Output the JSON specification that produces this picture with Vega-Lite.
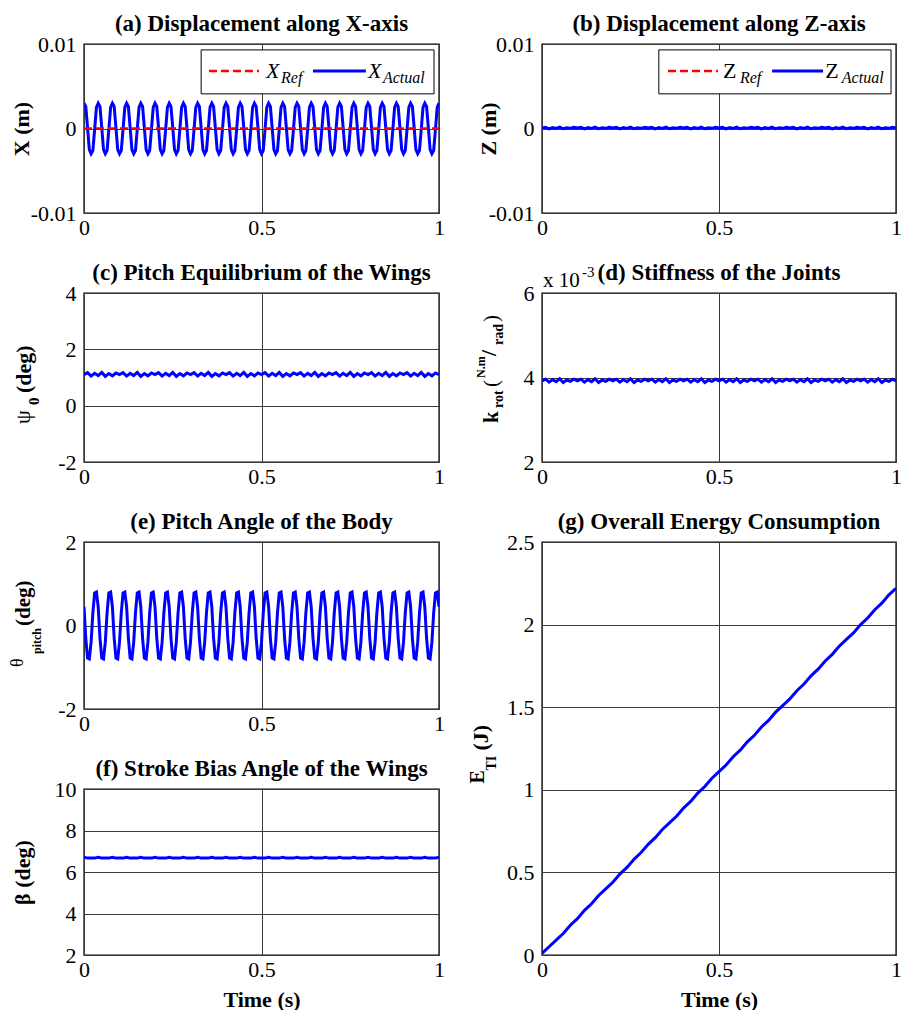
{
"$schema": "https://vega.github.io/schema/vega-lite/v6.json",
"padding": {"left": 8, "top": 12, "right": 0, "bottom": 0},
"background": "white",
"config": {
 "font": "Liberation Serif",
 "view": {"stroke": "#000000", "strokeWidth": 1.4},
 "axis": {"labelFont": "Liberation Serif", "labelFontSize": 22, "labelColor": "#000000", "labelFlush": false, "labelOverlap": false, "labelPadding": 8, "ticks": false, "domain": false, "grid": true, "gridColor": "#3a3a3a", "gridWidth": 1, "gridOpacity": 1, "titleFont": "Liberation Serif", "titleFontSize": 22, "titleFontWeight": "bold", "titleColor": "#000000"},
 "axisX": {"labelPadding": 4, "titlePadding": 9},
 "title": {"font": "Liberation Serif", "fontSize": 23, "fontWeight": "bold", "color": "#000000", "offset": -3},
 "text": {"font": "Liberation Serif", "color": "#000000"}
},
"datasets": {
 "refline": [{"t":0,"v":0},{"t":1,"v":0}],
 "osc": [
{"t":0,"X":0.003,"P":0.45},{"t":0.005,"X":0.0026,"P":-0.3},{"t":0.01,"X":0.0001,"P":-0.78},{"t":0.015,"X":-0.0025,"P":-0.8},{"t":0.02,"X":-0.003,"P":-0.4},{"t":0.025,"X":-0.0026,"P":0.3},{"t":0.03,"X":-0.0001,"P":0.78},{"t":0.035,"X":0.0025,"P":0.8},
{"t":0.04,"X":0.003,"P":0.45},{"t":0.045,"X":0.0026,"P":-0.3},{"t":0.05,"X":0.0001,"P":-0.78},{"t":0.055,"X":-0.0025,"P":-0.8},{"t":0.06,"X":-0.003,"P":-0.4},{"t":0.065,"X":-0.0026,"P":0.3},{"t":0.07,"X":-0.0001,"P":0.78},{"t":0.075,"X":0.0025,"P":0.8},
{"t":0.08,"X":0.003,"P":0.45},{"t":0.085,"X":0.0026,"P":-0.3},{"t":0.09,"X":0.0001,"P":-0.78},{"t":0.095,"X":-0.0025,"P":-0.8},{"t":0.1,"X":-0.003,"P":-0.4},{"t":0.105,"X":-0.0026,"P":0.3},{"t":0.11,"X":-0.0001,"P":0.78},{"t":0.115,"X":0.0025,"P":0.8},
{"t":0.12,"X":0.003,"P":0.45},{"t":0.125,"X":0.0026,"P":-0.3},{"t":0.13,"X":0.0001,"P":-0.78},{"t":0.135,"X":-0.0025,"P":-0.8},{"t":0.14,"X":-0.003,"P":-0.4},{"t":0.145,"X":-0.0026,"P":0.3},{"t":0.15,"X":-0.0001,"P":0.78},{"t":0.155,"X":0.0025,"P":0.8},
{"t":0.16,"X":0.003,"P":0.45},{"t":0.165,"X":0.0026,"P":-0.3},{"t":0.17,"X":0.0001,"P":-0.78},{"t":0.175,"X":-0.0025,"P":-0.8},{"t":0.18,"X":-0.003,"P":-0.4},{"t":0.185,"X":-0.0026,"P":0.3},{"t":0.19,"X":-0.0001,"P":0.78},{"t":0.195,"X":0.0025,"P":0.8},
{"t":0.2,"X":0.003,"P":0.45},{"t":0.205,"X":0.0026,"P":-0.3},{"t":0.21,"X":0.0001,"P":-0.78},{"t":0.215,"X":-0.0025,"P":-0.8},{"t":0.22,"X":-0.003,"P":-0.4},{"t":0.225,"X":-0.0026,"P":0.3},{"t":0.23,"X":-0.0001,"P":0.78},{"t":0.235,"X":0.0025,"P":0.8},
{"t":0.24,"X":0.003,"P":0.45},{"t":0.245,"X":0.0026,"P":-0.3},{"t":0.25,"X":0.0001,"P":-0.78},{"t":0.255,"X":-0.0025,"P":-0.8},{"t":0.26,"X":-0.003,"P":-0.4},{"t":0.265,"X":-0.0026,"P":0.3},{"t":0.27,"X":-0.0001,"P":0.78},{"t":0.275,"X":0.0025,"P":0.8},
{"t":0.28,"X":0.003,"P":0.45},{"t":0.285,"X":0.0026,"P":-0.3},{"t":0.29,"X":0.0001,"P":-0.78},{"t":0.295,"X":-0.0025,"P":-0.8},{"t":0.3,"X":-0.003,"P":-0.4},{"t":0.305,"X":-0.0026,"P":0.3},{"t":0.31,"X":-0.0001,"P":0.78},{"t":0.315,"X":0.0025,"P":0.8},
{"t":0.32,"X":0.003,"P":0.45},{"t":0.325,"X":0.0026,"P":-0.3},{"t":0.33,"X":0.0001,"P":-0.78},{"t":0.335,"X":-0.0025,"P":-0.8},{"t":0.34,"X":-0.003,"P":-0.4},{"t":0.345,"X":-0.0026,"P":0.3},{"t":0.35,"X":-0.0001,"P":0.78},{"t":0.355,"X":0.0025,"P":0.8},
{"t":0.36,"X":0.003,"P":0.45},{"t":0.365,"X":0.0026,"P":-0.3},{"t":0.37,"X":0.0001,"P":-0.78},{"t":0.375,"X":-0.0025,"P":-0.8},{"t":0.38,"X":-0.003,"P":-0.4},{"t":0.385,"X":-0.0026,"P":0.3},{"t":0.39,"X":-0.0001,"P":0.78},{"t":0.395,"X":0.0025,"P":0.8},
{"t":0.4,"X":0.003,"P":0.45},{"t":0.405,"X":0.0026,"P":-0.3},{"t":0.41,"X":0.0001,"P":-0.78},{"t":0.415,"X":-0.0025,"P":-0.8},{"t":0.42,"X":-0.003,"P":-0.4},{"t":0.425,"X":-0.0026,"P":0.3},{"t":0.43,"X":-0.0001,"P":0.78},{"t":0.435,"X":0.0025,"P":0.8},
{"t":0.44,"X":0.003,"P":0.45},{"t":0.445,"X":0.0026,"P":-0.3},{"t":0.45,"X":0.0001,"P":-0.78},{"t":0.455,"X":-0.0025,"P":-0.8},{"t":0.46,"X":-0.003,"P":-0.4},{"t":0.465,"X":-0.0026,"P":0.3},{"t":0.47,"X":-0.0001,"P":0.78},{"t":0.475,"X":0.0025,"P":0.8},
{"t":0.48,"X":0.003,"P":0.45},{"t":0.485,"X":0.0026,"P":-0.3},{"t":0.49,"X":0.0001,"P":-0.78},{"t":0.495,"X":-0.0025,"P":-0.8},{"t":0.5,"X":-0.003,"P":-0.4},{"t":0.505,"X":-0.0026,"P":0.3},{"t":0.51,"X":-0.0001,"P":0.78},{"t":0.515,"X":0.0025,"P":0.8},
{"t":0.52,"X":0.003,"P":0.45},{"t":0.525,"X":0.0026,"P":-0.3},{"t":0.53,"X":0.0001,"P":-0.78},{"t":0.535,"X":-0.0025,"P":-0.8},{"t":0.54,"X":-0.003,"P":-0.4},{"t":0.545,"X":-0.0026,"P":0.3},{"t":0.55,"X":-0.0001,"P":0.78},{"t":0.555,"X":0.0025,"P":0.8},
{"t":0.56,"X":0.003,"P":0.45},{"t":0.565,"X":0.0026,"P":-0.3},{"t":0.57,"X":0.0001,"P":-0.78},{"t":0.575,"X":-0.0025,"P":-0.8},{"t":0.58,"X":-0.003,"P":-0.4},{"t":0.585,"X":-0.0026,"P":0.3},{"t":0.59,"X":-0.0001,"P":0.78},{"t":0.595,"X":0.0025,"P":0.8},
{"t":0.6,"X":0.003,"P":0.45},{"t":0.605,"X":0.0026,"P":-0.3},{"t":0.61,"X":0.0001,"P":-0.78},{"t":0.615,"X":-0.0025,"P":-0.8},{"t":0.62,"X":-0.003,"P":-0.4},{"t":0.625,"X":-0.0026,"P":0.3},{"t":0.63,"X":-0.0001,"P":0.78},{"t":0.635,"X":0.0025,"P":0.8},
{"t":0.64,"X":0.003,"P":0.45},{"t":0.645,"X":0.0026,"P":-0.3},{"t":0.65,"X":0.0001,"P":-0.78},{"t":0.655,"X":-0.0025,"P":-0.8},{"t":0.66,"X":-0.003,"P":-0.4},{"t":0.665,"X":-0.0026,"P":0.3},{"t":0.67,"X":-0.0001,"P":0.78},{"t":0.675,"X":0.0025,"P":0.8},
{"t":0.68,"X":0.003,"P":0.45},{"t":0.685,"X":0.0026,"P":-0.3},{"t":0.69,"X":0.0001,"P":-0.78},{"t":0.695,"X":-0.0025,"P":-0.8},{"t":0.7,"X":-0.003,"P":-0.4},{"t":0.705,"X":-0.0026,"P":0.3},{"t":0.71,"X":-0.0001,"P":0.78},{"t":0.715,"X":0.0025,"P":0.8},
{"t":0.72,"X":0.003,"P":0.45},{"t":0.725,"X":0.0026,"P":-0.3},{"t":0.73,"X":0.0001,"P":-0.78},{"t":0.735,"X":-0.0025,"P":-0.8},{"t":0.74,"X":-0.003,"P":-0.4},{"t":0.745,"X":-0.0026,"P":0.3},{"t":0.75,"X":-0.0001,"P":0.78},{"t":0.755,"X":0.0025,"P":0.8},
{"t":0.76,"X":0.003,"P":0.45},{"t":0.765,"X":0.0026,"P":-0.3},{"t":0.77,"X":0.0001,"P":-0.78},{"t":0.775,"X":-0.0025,"P":-0.8},{"t":0.78,"X":-0.003,"P":-0.4},{"t":0.785,"X":-0.0026,"P":0.3},{"t":0.79,"X":-0.0001,"P":0.78},{"t":0.795,"X":0.0025,"P":0.8},
{"t":0.8,"X":0.003,"P":0.45},{"t":0.805,"X":0.0026,"P":-0.3},{"t":0.81,"X":0.0001,"P":-0.78},{"t":0.815,"X":-0.0025,"P":-0.8},{"t":0.82,"X":-0.003,"P":-0.4},{"t":0.825,"X":-0.0026,"P":0.3},{"t":0.83,"X":-0.0001,"P":0.78},{"t":0.835,"X":0.0025,"P":0.8},
{"t":0.84,"X":0.003,"P":0.45},{"t":0.845,"X":0.0026,"P":-0.3},{"t":0.85,"X":0.0001,"P":-0.78},{"t":0.855,"X":-0.0025,"P":-0.8},{"t":0.86,"X":-0.003,"P":-0.4},{"t":0.865,"X":-0.0026,"P":0.3},{"t":0.87,"X":-0.0001,"P":0.78},{"t":0.875,"X":0.0025,"P":0.8},
{"t":0.88,"X":0.003,"P":0.45},{"t":0.885,"X":0.0026,"P":-0.3},{"t":0.89,"X":0.0001,"P":-0.78},{"t":0.895,"X":-0.0025,"P":-0.8},{"t":0.9,"X":-0.003,"P":-0.4},{"t":0.905,"X":-0.0026,"P":0.3},{"t":0.91,"X":-0.0001,"P":0.78},{"t":0.915,"X":0.0025,"P":0.8},
{"t":0.92,"X":0.003,"P":0.45},{"t":0.925,"X":0.0026,"P":-0.3},{"t":0.93,"X":0.0001,"P":-0.78},{"t":0.935,"X":-0.0025,"P":-0.8},{"t":0.94,"X":-0.003,"P":-0.4},{"t":0.945,"X":-0.0026,"P":0.3},{"t":0.95,"X":-0.0001,"P":0.78},{"t":0.955,"X":0.0025,"P":0.8},
{"t":0.96,"X":0.003,"P":0.45},{"t":0.965,"X":0.0026,"P":-0.3},{"t":0.97,"X":0.0001,"P":-0.78},{"t":0.975,"X":-0.0025,"P":-0.8},{"t":0.98,"X":-0.003,"P":-0.4},{"t":0.985,"X":-0.0026,"P":0.3},{"t":0.99,"X":-0.0001,"P":0.78},{"t":0.995,"X":0.0025,"P":0.8},
{"t":1,"X":0.003,"P":0.45}
 ],
 "noise": [
{"t":0,"Z":0.00005,"S":1.1,"K":3.92,"B":6.71},{"t":0.01,"Z":0.00014,"S":1.17,"K":3.96,"B":6.67},{"t":0.02,"Z":-0.00004,"S":1.05,"K":3.89,"B":6.67},{"t":0.03,"Z":0.0001,"S":1.15,"K":3.95,"B":6.67},{"t":0.04,"Z":0.00001,"S":1.07,"K":3.9,"B":6.71},{"t":0.05,"Z":0.00016,"S":1.18,"K":3.97,"B":6.67},{"t":0.06,"Z":-0.00003,"S":1.04,"K":3.88,"B":6.67},{"t":0.07,"Z":0.00009,"S":1.14,"K":3.94,"B":6.67},{"t":0.08,"Z":0.00002,"S":1.06,"K":3.91,"B":6.71},{"t":0.09,"Z":0.00013,"S":1.16,"K":3.96,"B":6.67},
{"t":0.1,"Z":0.00005,"S":1.1,"K":3.92,"B":6.67},{"t":0.11,"Z":0.00014,"S":1.17,"K":3.96,"B":6.67},{"t":0.12,"Z":-0.00004,"S":1.05,"K":3.89,"B":6.71},{"t":0.13,"Z":0.0001,"S":1.15,"K":3.95,"B":6.67},{"t":0.14,"Z":0.00001,"S":1.07,"K":3.9,"B":6.67},{"t":0.15,"Z":0.00016,"S":1.18,"K":3.97,"B":6.67},{"t":0.16,"Z":-0.00003,"S":1.04,"K":3.88,"B":6.71},{"t":0.17,"Z":0.00009,"S":1.14,"K":3.94,"B":6.67},{"t":0.18,"Z":0.00002,"S":1.06,"K":3.91,"B":6.67},{"t":0.19,"Z":0.00013,"S":1.16,"K":3.96,"B":6.67},
{"t":0.2,"Z":0.00005,"S":1.1,"K":3.92,"B":6.71},{"t":0.21,"Z":0.00014,"S":1.17,"K":3.96,"B":6.67},{"t":0.22,"Z":-0.00004,"S":1.05,"K":3.89,"B":6.67},{"t":0.23,"Z":0.0001,"S":1.15,"K":3.95,"B":6.67},{"t":0.24,"Z":0.00001,"S":1.07,"K":3.9,"B":6.71},{"t":0.25,"Z":0.00016,"S":1.18,"K":3.97,"B":6.67},{"t":0.26,"Z":-0.00003,"S":1.04,"K":3.88,"B":6.67},{"t":0.27,"Z":0.00009,"S":1.14,"K":3.94,"B":6.67},{"t":0.28,"Z":0.00002,"S":1.06,"K":3.91,"B":6.71},{"t":0.29,"Z":0.00013,"S":1.16,"K":3.96,"B":6.67},
{"t":0.3,"Z":0.00005,"S":1.1,"K":3.92,"B":6.67},{"t":0.31,"Z":0.00014,"S":1.17,"K":3.96,"B":6.67},{"t":0.32,"Z":-0.00004,"S":1.05,"K":3.89,"B":6.71},{"t":0.33,"Z":0.0001,"S":1.15,"K":3.95,"B":6.67},{"t":0.34,"Z":0.00001,"S":1.07,"K":3.9,"B":6.67},{"t":0.35,"Z":0.00016,"S":1.18,"K":3.97,"B":6.67},{"t":0.36,"Z":-0.00003,"S":1.04,"K":3.88,"B":6.71},{"t":0.37,"Z":0.00009,"S":1.14,"K":3.94,"B":6.67},{"t":0.38,"Z":0.00002,"S":1.06,"K":3.91,"B":6.67},{"t":0.39,"Z":0.00013,"S":1.16,"K":3.96,"B":6.67},
{"t":0.4,"Z":0.00005,"S":1.1,"K":3.92,"B":6.71},{"t":0.41,"Z":0.00014,"S":1.17,"K":3.96,"B":6.67},{"t":0.42,"Z":-0.00004,"S":1.05,"K":3.89,"B":6.67},{"t":0.43,"Z":0.0001,"S":1.15,"K":3.95,"B":6.67},{"t":0.44,"Z":0.00001,"S":1.07,"K":3.9,"B":6.71},{"t":0.45,"Z":0.00016,"S":1.18,"K":3.97,"B":6.67},{"t":0.46,"Z":-0.00003,"S":1.04,"K":3.88,"B":6.67},{"t":0.47,"Z":0.00009,"S":1.14,"K":3.94,"B":6.67},{"t":0.48,"Z":0.00002,"S":1.06,"K":3.91,"B":6.71},{"t":0.49,"Z":0.00013,"S":1.16,"K":3.96,"B":6.67},
{"t":0.5,"Z":0.00005,"S":1.1,"K":3.92,"B":6.67},{"t":0.51,"Z":0.00014,"S":1.17,"K":3.96,"B":6.67},{"t":0.52,"Z":-0.00004,"S":1.05,"K":3.89,"B":6.71},{"t":0.53,"Z":0.0001,"S":1.15,"K":3.95,"B":6.67},{"t":0.54,"Z":0.00001,"S":1.07,"K":3.9,"B":6.67},{"t":0.55,"Z":0.00016,"S":1.18,"K":3.97,"B":6.67},{"t":0.56,"Z":-0.00003,"S":1.04,"K":3.88,"B":6.71},{"t":0.57,"Z":0.00009,"S":1.14,"K":3.94,"B":6.67},{"t":0.58,"Z":0.00002,"S":1.06,"K":3.91,"B":6.67},{"t":0.59,"Z":0.00013,"S":1.16,"K":3.96,"B":6.67},
{"t":0.6,"Z":0.00005,"S":1.1,"K":3.92,"B":6.71},{"t":0.61,"Z":0.00014,"S":1.17,"K":3.96,"B":6.67},{"t":0.62,"Z":-0.00004,"S":1.05,"K":3.89,"B":6.67},{"t":0.63,"Z":0.0001,"S":1.15,"K":3.95,"B":6.67},{"t":0.64,"Z":0.00001,"S":1.07,"K":3.9,"B":6.71},{"t":0.65,"Z":0.00016,"S":1.18,"K":3.97,"B":6.67},{"t":0.66,"Z":-0.00003,"S":1.04,"K":3.88,"B":6.67},{"t":0.67,"Z":0.00009,"S":1.14,"K":3.94,"B":6.67},{"t":0.68,"Z":0.00002,"S":1.06,"K":3.91,"B":6.71},{"t":0.69,"Z":0.00013,"S":1.16,"K":3.96,"B":6.67},
{"t":0.7,"Z":0.00005,"S":1.1,"K":3.92,"B":6.67},{"t":0.71,"Z":0.00014,"S":1.17,"K":3.96,"B":6.67},{"t":0.72,"Z":-0.00004,"S":1.05,"K":3.89,"B":6.71},{"t":0.73,"Z":0.0001,"S":1.15,"K":3.95,"B":6.67},{"t":0.74,"Z":0.00001,"S":1.07,"K":3.9,"B":6.67},{"t":0.75,"Z":0.00016,"S":1.18,"K":3.97,"B":6.67},{"t":0.76,"Z":-0.00003,"S":1.04,"K":3.88,"B":6.71},{"t":0.77,"Z":0.00009,"S":1.14,"K":3.94,"B":6.67},{"t":0.78,"Z":0.00002,"S":1.06,"K":3.91,"B":6.67},{"t":0.79,"Z":0.00013,"S":1.16,"K":3.96,"B":6.67},
{"t":0.8,"Z":0.00005,"S":1.1,"K":3.92,"B":6.71},{"t":0.81,"Z":0.00014,"S":1.17,"K":3.96,"B":6.67},{"t":0.82,"Z":-0.00004,"S":1.05,"K":3.89,"B":6.67},{"t":0.83,"Z":0.0001,"S":1.15,"K":3.95,"B":6.67},{"t":0.84,"Z":0.00001,"S":1.07,"K":3.9,"B":6.71},{"t":0.85,"Z":0.00016,"S":1.18,"K":3.97,"B":6.67},{"t":0.86,"Z":-0.00003,"S":1.04,"K":3.88,"B":6.67},{"t":0.87,"Z":0.00009,"S":1.14,"K":3.94,"B":6.67},{"t":0.88,"Z":0.00002,"S":1.06,"K":3.91,"B":6.71},{"t":0.89,"Z":0.00013,"S":1.16,"K":3.96,"B":6.67},
{"t":0.9,"Z":0.00005,"S":1.1,"K":3.92,"B":6.67},{"t":0.91,"Z":0.00014,"S":1.17,"K":3.96,"B":6.67},{"t":0.92,"Z":-0.00004,"S":1.05,"K":3.89,"B":6.71},{"t":0.93,"Z":0.0001,"S":1.15,"K":3.95,"B":6.67},{"t":0.94,"Z":0.00001,"S":1.07,"K":3.9,"B":6.67},{"t":0.95,"Z":0.00016,"S":1.18,"K":3.97,"B":6.67},{"t":0.96,"Z":-0.00003,"S":1.04,"K":3.88,"B":6.71},{"t":0.97,"Z":0.00009,"S":1.14,"K":3.94,"B":6.67},{"t":0.98,"Z":0.00002,"S":1.06,"K":3.91,"B":6.67},{"t":0.99,"Z":0.00013,"S":1.16,"K":3.96,"B":6.67},
{"t":1,"Z":0.00005,"S":1.1,"K":3.92,"B":6.71}
 ],
 "energy": [
{"t":0,"E":0.01},{"t":0.02,"E":0.05},{"t":0.04,"E":0.09},{"t":0.06,"E":0.13},{"t":0.08,"E":0.18},{"t":0.1,"E":0.22},{"t":0.12,"E":0.27},{"t":0.14,"E":0.31},{"t":0.16,"E":0.36},{"t":0.18,"E":0.4},{"t":0.2,"E":0.44},{"t":0.22,"E":0.49},{"t":0.24,"E":0.53},{"t":0.26,"E":0.58},{"t":0.28,"E":0.62},{"t":0.3,"E":0.67},{"t":0.32,"E":0.71},{"t":0.34,"E":0.76},{"t":0.36,"E":0.8},{"t":0.38,"E":0.84},{"t":0.4,"E":0.89},{"t":0.42,"E":0.93},{"t":0.44,"E":0.98},{"t":0.46,"E":1.02},{"t":0.48,"E":1.07},{"t":0.5,"E":1.11},{"t":0.52,"E":1.15},{"t":0.54,"E":1.2},{"t":0.56,"E":1.24},{"t":0.58,"E":1.29},{"t":0.6,"E":1.33},{"t":0.62,"E":1.38},{"t":0.64,"E":1.42},{"t":0.66,"E":1.47},{"t":0.68,"E":1.51},{"t":0.7,"E":1.55},{"t":0.72,"E":1.6},{"t":0.74,"E":1.64},{"t":0.76,"E":1.69},{"t":0.78,"E":1.73},{"t":0.8,"E":1.78},{"t":0.82,"E":1.82},{"t":0.84,"E":1.87},{"t":0.86,"E":1.91},{"t":0.88,"E":1.95},{"t":0.9,"E":2.0},{"t":0.92,"E":2.04},{"t":0.94,"E":2.09},{"t":0.96,"E":2.13},{"t":0.98,"E":2.18},{"t":1,"E":2.22}
 ]
},
"spacing": 21,
"bounds": "full",
"hconcat": [
 {"spacing": 80, "bounds": "flush", "vconcat": [
  {"title": "(a) Displacement along X-axis", "width": 355, "height": 169, "layer": [
   {"data": {"name": "osc"}, "mark": {"type": "line", "color": "#0000ff", "strokeWidth": 3, "clip": true},
    "encoding": {
     "x": {"field": "t", "type": "quantitative", "scale": {"domain": [0, 1], "nice": false}, "axis": {"values": [0, 0.5, 1], "title": null, "labelExpr": "toString(datum.value)"}},
     "y": {"field": "X", "type": "quantitative", "scale": {"domain": [-0.01, 0.01], "nice": false, "zero": false}, "axis": {"values": [-0.01, 0, 0.01], "title": "X (m)", "titlePadding": -3, "labelExpr": "toString(datum.value)"}}}},
   {"data": {"name": "refline"}, "mark": {"type": "line", "color": "#ff0000", "strokeWidth": 2.5, "strokeDash": [8, 4]},
    "encoding": {"x": {"field": "t", "type": "quantitative"}, "y": {"field": "v", "type": "quantitative"}}},
   {"data": {"values": [{}]}, "mark": {"type": "rect", "fill": "#ffffff", "stroke": "#000000", "strokeWidth": 1},
    "encoding": {"x": {"datum": 0.33}, "x2": {"datum": 0.986}, "y": {"datum": 0.0093}, "y2": {"datum": 0.0041}}},
   {"data": {"values": [{}]}, "mark": {"type": "rule", "color": "#ff0000", "strokeWidth": 2.5, "strokeDash": [8, 4]},
    "encoding": {"x": {"datum": 0.352}, "x2": {"datum": 0.493}, "y": {"datum": 0.0068}}},
   {"data": {"values": [{}]}, "mark": {"type": "rule", "color": "#0000ff", "strokeWidth": 3},
    "encoding": {"x": {"datum": 0.645}, "x2": {"datum": 0.794}, "y": {"datum": 0.0068}}},
   {"data": {"values": [{}]}, "mark": {"type": "text", "text": "X", "fontStyle": "italic", "fontSize": 22, "align": "left", "baseline": "alphabetic", "dy": 7},
    "encoding": {"x": {"datum": 0.513}, "y": {"datum": 0.0068}}},
   {"data": {"values": [{}]}, "mark": {"type": "text", "text": "Ref", "fontStyle": "italic", "fontSize": 16, "align": "left", "baseline": "alphabetic", "dy": 12},
    "encoding": {"x": {"datum": 0.555}, "y": {"datum": 0.0068}}},
   {"data": {"values": [{}]}, "mark": {"type": "text", "text": "X", "fontStyle": "italic", "fontSize": 22, "align": "left", "baseline": "alphabetic", "dy": 7},
    "encoding": {"x": {"datum": 0.8}, "y": {"datum": 0.0068}}},
   {"data": {"values": [{}]}, "mark": {"type": "text", "text": "Actual", "fontStyle": "italic", "fontSize": 16, "align": "left", "baseline": "alphabetic", "dy": 12},
    "encoding": {"x": {"datum": 0.842}, "y": {"datum": 0.0068}}}
  ]},
  {"title": "(c) Pitch Equilibrium of the Wings", "width": 355, "height": 169, "layer": [
   {"data": {"name": "noise"}, "mark": {"type": "line", "color": "#0000ff", "strokeWidth": 3, "clip": true},
    "encoding": {
     "x": {"field": "t", "type": "quantitative", "scale": {"domain": [0, 1], "nice": false}, "axis": {"values": [0, 0.5, 1], "title": null, "labelExpr": "toString(datum.value)"}},
     "y": {"field": "S", "type": "quantitative", "scale": {"domain": [-2, 4], "nice": false, "zero": false}, "axis": {"values": [-2, 0, 2, 4], "title": null, "labelExpr": "toString(datum.value)"}}}},
   {"data": {"values": [{}]}, "mark": {"type": "text", "text": "ψ", "angle": 270, "fontSize": 22, "align": "left", "baseline": "alphabetic", "dx": -46.5, "dy": -54},
    "encoding": {"x": {"datum": 0}, "y": {"datum": 1}}},
   {"data": {"values": [{}]}, "mark": {"type": "text", "text": "0", "angle": 270, "fontSize": 15, "fontWeight": "bold", "align": "left", "baseline": "alphabetic", "dx": -27.5, "dy": -45},
    "encoding": {"x": {"datum": 0}, "y": {"datum": 1}}},
   {"data": {"values": [{}]}, "mark": {"type": "text", "text": "(deg)", "angle": 270, "fontSize": 22, "fontWeight": "bold", "align": "left", "baseline": "alphabetic", "dx": -15.5, "dy": -53.5},
    "encoding": {"x": {"datum": 0}, "y": {"datum": 1}}}
  ]},
  {"title": "(e) Pitch Angle of the Body", "width": 355, "height": 167, "layer": [
   {"data": {"name": "osc"}, "mark": {"type": "line", "color": "#0000ff", "strokeWidth": 3, "clip": true},
    "encoding": {
     "x": {"field": "t", "type": "quantitative", "scale": {"domain": [0, 1], "nice": false}, "axis": {"values": [0, 0.5, 1], "title": null, "labelExpr": "toString(datum.value)"}},
     "y": {"field": "P", "type": "quantitative", "scale": {"domain": [-2, 2], "nice": false, "zero": false}, "axis": {"values": [-2, 0, 2], "title": null, "labelExpr": "toString(datum.value)"}}}},
   {"data": {"values": [{}]}, "mark": {"type": "text", "text": "θ", "angle": 270, "fontSize": 18, "align": "left", "baseline": "alphabetic", "dx": -41.5, "dy": -61},
    "encoding": {"x": {"datum": 0}, "y": {"datum": 0}}},
   {"data": {"values": [{}]}, "mark": {"type": "text", "text": "pitch", "angle": 270, "fontSize": 12, "fontWeight": "bold", "align": "left", "baseline": "alphabetic", "dx": -28.5, "dy": -43},
    "encoding": {"x": {"datum": 0}, "y": {"datum": 0}}},
   {"data": {"values": [{}]}, "mark": {"type": "text", "text": "(deg)", "angle": 270, "fontSize": 21, "fontWeight": "bold", "align": "left", "baseline": "alphabetic", "dx": -0.5, "dy": -54},
    "encoding": {"x": {"datum": 0}, "y": {"datum": 0}}}
  ]},
  {"title": "(f) Stroke Bias Angle of the Wings", "width": 355, "height": 166, "layer": [
   {"data": {"name": "noise"}, "mark": {"type": "line", "color": "#0000ff", "strokeWidth": 3, "clip": true},
    "encoding": {
     "x": {"field": "t", "type": "quantitative", "scale": {"domain": [0, 1], "nice": false}, "axis": {"values": [0, 0.5, 1], "title": "Time (s)", "labelExpr": "toString(datum.value)"}},
     "y": {"field": "B", "type": "quantitative", "scale": {"domain": [2, 10], "nice": false, "zero": false}, "axis": {"values": [2, 4, 6, 8, 10], "title": "β (deg)", "titlePadding": 20, "labelExpr": "toString(datum.value)"}}}}
  ]}
 ]},
 {"spacing": 80, "bounds": "flush", "vconcat": [
  {"title": "(b) Displacement along Z-axis", "width": 354, "height": 169, "layer": [
   {"data": {"name": "refline"}, "mark": {"type": "line", "color": "#ff0000", "strokeWidth": 2.5, "strokeDash": [8, 4]},
    "encoding": {
     "x": {"field": "t", "type": "quantitative", "scale": {"domain": [0, 1], "nice": false}, "axis": {"values": [0, 0.5, 1], "title": null, "labelExpr": "toString(datum.value)"}},
     "y": {"field": "v", "type": "quantitative", "scale": {"domain": [-0.01, 0.01], "nice": false, "zero": false}, "axis": {"values": [-0.01, 0, 0.01], "title": "Z (m)", "titlePadding": -12, "labelExpr": "toString(datum.value)"}}}},
   {"data": {"name": "noise"}, "mark": {"type": "line", "color": "#0000ff", "strokeWidth": 3, "clip": true},
    "encoding": {"x": {"field": "t", "type": "quantitative"}, "y": {"field": "Z", "type": "quantitative"}}},
   {"data": {"values": [{}]}, "mark": {"type": "rect", "fill": "#ffffff", "stroke": "#000000", "strokeWidth": 1},
    "encoding": {"x": {"datum": 0.33}, "x2": {"datum": 0.986}, "y": {"datum": 0.0093}, "y2": {"datum": 0.0041}}},
   {"data": {"values": [{}]}, "mark": {"type": "rule", "color": "#ff0000", "strokeWidth": 2.5, "strokeDash": [8, 4]},
    "encoding": {"x": {"datum": 0.356}, "x2": {"datum": 0.497}, "y": {"datum": 0.0068}}},
   {"data": {"values": [{}]}, "mark": {"type": "rule", "color": "#0000ff", "strokeWidth": 3},
    "encoding": {"x": {"datum": 0.65}, "x2": {"datum": 0.794}, "y": {"datum": 0.0068}}},
   {"data": {"values": [{}]}, "mark": {"type": "text", "text": "Z", "fontSize": 22, "align": "left", "baseline": "alphabetic", "dy": 7},
    "encoding": {"x": {"datum": 0.511}, "y": {"datum": 0.0068}}},
   {"data": {"values": [{}]}, "mark": {"type": "text", "text": "Ref", "fontStyle": "italic", "fontSize": 16, "align": "left", "baseline": "alphabetic", "dy": 12},
    "encoding": {"x": {"datum": 0.559}, "y": {"datum": 0.0068}}},
   {"data": {"values": [{}]}, "mark": {"type": "text", "text": "Z", "fontSize": 22, "align": "left", "baseline": "alphabetic", "dy": 7},
    "encoding": {"x": {"datum": 0.8}, "y": {"datum": 0.0068}}},
   {"data": {"values": [{}]}, "mark": {"type": "text", "text": "Actual", "fontStyle": "italic", "fontSize": 16, "align": "left", "baseline": "alphabetic", "dy": 12},
    "encoding": {"x": {"datum": 0.847}, "y": {"datum": 0.0068}}}
  ]},
  {"title": {"text": "(d) Stiffness of the Joints", "offset": -20}, "width": 354, "height": 169, "layer": [
   {"data": {"name": "noise"}, "mark": {"type": "line", "color": "#0000ff", "strokeWidth": 3, "clip": true},
    "encoding": {
     "x": {"field": "t", "type": "quantitative", "scale": {"domain": [0, 1], "nice": false}, "axis": {"values": [0, 0.5, 1], "title": null, "labelExpr": "toString(datum.value)"}},
     "y": {"field": "K", "type": "quantitative", "scale": {"domain": [2, 6], "nice": false, "zero": false}, "axis": {"values": [2, 4, 6], "title": null, "labelExpr": "toString(datum.value)"}}}},
   {"data": {"values": [{}]}, "mark": {"type": "text", "text": "x 10", "fontSize": 21, "align": "left", "baseline": "alphabetic", "dx": 1, "dy": -6},
    "encoding": {"x": {"datum": 0}, "y": {"datum": 6}}},
   {"data": {"values": [{}]}, "mark": {"type": "text", "text": "-3", "fontSize": 15, "align": "left", "baseline": "alphabetic", "dx": 40, "dy": -16},
    "encoding": {"x": {"datum": 0}, "y": {"datum": 6}}},
   {"data": {"values": [{}]}, "mark": {"type": "text", "text": "k", "angle": 270, "fontSize": 21, "fontWeight": "bold", "align": "left", "baseline": "alphabetic", "dx": -45.5, "dy": -44},
    "encoding": {"x": {"datum": 0}, "y": {"datum": 4}}},
   {"data": {"values": [{}]}, "mark": {"type": "text", "text": "rot", "angle": 270, "fontSize": 14, "fontWeight": "bold", "align": "left", "baseline": "alphabetic", "dx": -30.5, "dy": -39},
    "encoding": {"x": {"datum": 0}, "y": {"datum": 4}}},
   {"data": {"values": [{}]}, "mark": {"type": "text", "text": "(", "angle": 270, "fontSize": 21, "align": "left", "baseline": "alphabetic", "dx": -9.5, "dy": -44},
    "encoding": {"x": {"datum": 0}, "y": {"datum": 4}}},
   {"data": {"values": [{}]}, "mark": {"type": "text", "text": "N.m", "angle": 270, "fontSize": 12, "fontWeight": "bold", "align": "left", "baseline": "alphabetic", "dx": -0.5, "dy": -57},
    "encoding": {"x": {"datum": 0}, "y": {"datum": 4}}},
   {"data": {"values": [{}]}, "mark": {"type": "text", "text": "/", "angle": 270, "fontSize": 22, "fontWeight": "bold", "align": "left", "baseline": "alphabetic", "dx": 21.5, "dy": -46},
    "encoding": {"x": {"datum": 0}, "y": {"datum": 4}}},
   {"data": {"values": [{}]}, "mark": {"type": "text", "text": "rad", "angle": 270, "fontSize": 14, "fontWeight": "bold", "align": "left", "baseline": "alphabetic", "dx": 32.5, "dy": -39},
    "encoding": {"x": {"datum": 0}, "y": {"datum": 4}}},
   {"data": {"values": [{}]}, "mark": {"type": "text", "text": ")", "angle": 270, "fontSize": 21, "align": "left", "baseline": "alphabetic", "dx": 55.5, "dy": -44},
    "encoding": {"x": {"datum": 0}, "y": {"datum": 4}}}
  ]},
  {"title": "(g) Overall Energy Consumption", "width": 354, "height": 413, "layer": [
   {"data": {"name": "energy"}, "mark": {"type": "line", "color": "#0000ff", "strokeWidth": 3, "clip": true},
    "encoding": {
     "x": {"field": "t", "type": "quantitative", "scale": {"domain": [0, 1], "nice": false}, "axis": {"values": [0, 0.5, 1], "title": "Time (s)", "labelExpr": "toString(datum.value)"}},
     "y": {"field": "E", "type": "quantitative", "scale": {"domain": [0, 2.5], "nice": false, "zero": false}, "axis": {"values": [0, 0.5, 1, 1.5, 2, 2.5], "title": null, "labelExpr": "toString(datum.value)"}}}},
   {"data": {"values": [{}]}, "mark": {"type": "text", "text": "E", "angle": 270, "fontSize": 20, "fontWeight": "bold", "align": "left", "baseline": "alphabetic", "dx": -35, "dy": -58},
    "encoding": {"x": {"datum": 0}, "y": {"datum": 1.25}}},
   {"data": {"values": [{}]}, "mark": {"type": "text", "text": "TI", "angle": 270, "fontSize": 14, "fontWeight": "bold", "align": "left", "baseline": "alphabetic", "dx": -22, "dy": -46},
    "encoding": {"x": {"datum": 0}, "y": {"datum": 1.25}}},
   {"data": {"values": [{}]}, "mark": {"type": "text", "text": "(J)", "angle": 270, "fontSize": 22, "fontWeight": "bold", "align": "left", "baseline": "alphabetic", "dx": -2, "dy": -54},
    "encoding": {"x": {"datum": 0}, "y": {"datum": 1.25}}}
  ]}
 ]}
]
}
